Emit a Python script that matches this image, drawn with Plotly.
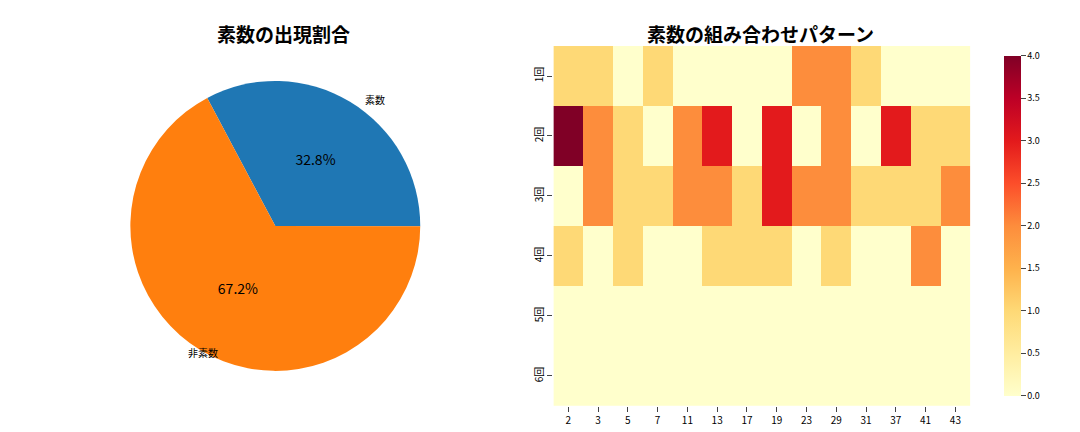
import plotly.graph_objects as go

pie_labels = ["素数", "非素数"]
pie_values = [32.8, 67.2]

primes = ["2","3","5","7","11","13","17","19","23","29","31","37","41","43"]
rows = ["1回","2回","3回","4回","5回","6回"]
z = [
    [1,1,0,1,0,0,0,0,2,2,1,0,0,0],
    [4,2,1,0,2,3,0,3,0,2,0,3,1,1],
    [0,2,1,1,2,2,1,3,2,2,1,1,1,2],
    [1,0,1,0,0,1,1,1,0,1,0,0,2,0],
    [0]*14,
    [0]*14,
]
ylorrd = ["#ffffcc","#ffeda0","#fed976","#feb24c","#fd8d3c","#fc4e2a","#e31a1c","#bd0026","#800026"]
cs = [[i/8, c] for i, c in enumerate(ylorrd)]

font = "Noto Sans CJK JP"
fig = go.Figure()
fig.add_trace(go.Pie(labels=pie_labels, values=pie_values, sort=False,
    direction="counterclockwise", rotation=-28,
    marker=dict(colors=["#1f77b4", "#ff7f0e"]),
    texttemplate="%{percent:.1%}", textposition="inside", insidetextorientation="horizontal",
    textfont=dict(size=14, color="black"), showlegend=False,
    domain=dict(x=[0.113, 0.382], y=[0.16, 0.831])))
fig.add_trace(go.Heatmap(z=z, x=primes, y=rows, colorscale=cs, zmin=0, zmax=4,
    xaxis="x", yaxis="y",
    colorbar=dict(x=0.913, xanchor="left", thickness=17, len=0.834, y=0.496, yanchor="middle",
                  outlinewidth=0, dtick=0.5, tickformat=".1f", ticks="outside",
                  tickfont=dict(size=9))))
fig.update_layout(
    width=1080, height=432, margin=dict(l=0, r=0, t=0, b=0),
    paper_bgcolor="white", plot_bgcolor="white", font=dict(family=font, color="black"),
    xaxis=dict(domain=[0.505, 0.891], type="category", ticks="outside", tickfont=dict(size=10), showgrid=False),
    yaxis=dict(domain=[0.079, 0.912], type="category", autorange="reversed", ticks="outside",
               tickangle=-90, tickfont=dict(size=10), showgrid=False),
    annotations=[
        dict(text="<b>素数の出現割合</b>", x=0.255, y=0.94, xref="paper", yref="paper", showarrow=False,
             font=dict(size=19), xanchor="center", yanchor="middle"),
        dict(text="<b>素数の組み合わせパターン</b>", x=0.697, y=0.94, xref="paper", yref="paper", showarrow=False,
             font=dict(size=19), xanchor="center", yanchor="middle"),
        dict(text="素数", x=0.34, y=0.81, xref="paper", yref="paper", showarrow=False, font=dict(size=10)),
        dict(text="非素数", x=0.165, y=0.18, xref="paper", yref="paper", showarrow=False, font=dict(size=10)),
    ])
fig.write_html("out.html")
